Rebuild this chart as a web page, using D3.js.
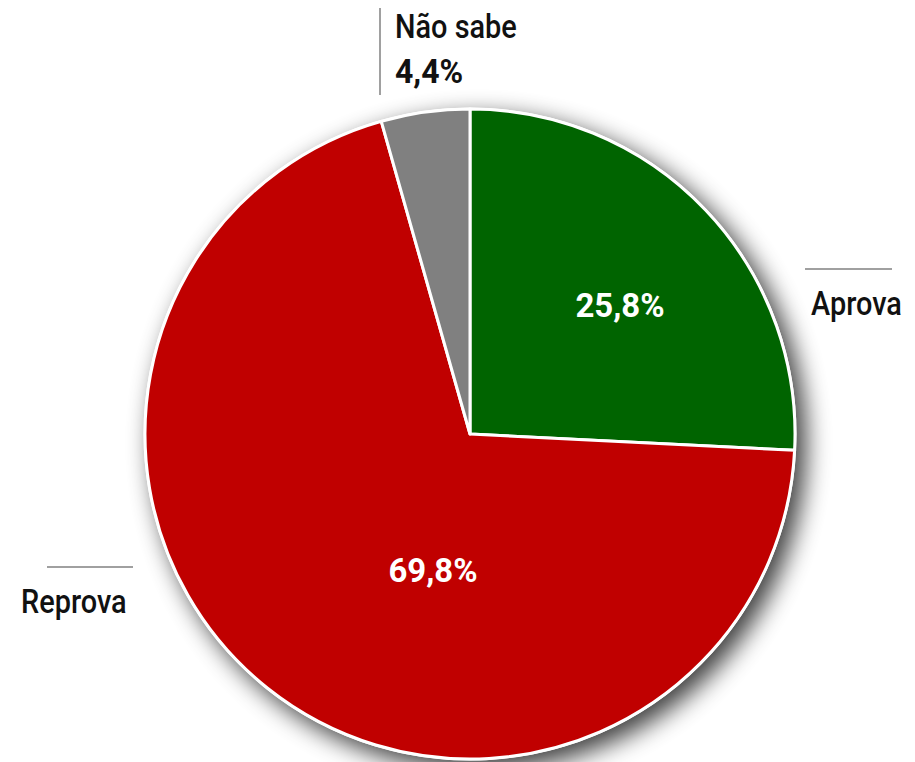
<!DOCTYPE html>
<html>
<head>
<meta charset="utf-8">
<script src="https://cdn.jsdelivr.net/npm/d3@7"></script>
<style>
  body { margin: 0; background: #fff; }
  text { font-family: "Roboto", "Liberation Sans", sans-serif; }
</style>
</head>
<body>
<div id="chart"></div>
<script>
// data
var labels = ["Aprova", "Reprova", "Não sabe"];
var values = [25.8, 69.8, 4.4];
var colors = ["#006400", "#c00000", "#808080"];

var width = 915, height = 762;
var cx = 470, cy = 434, radius = 325;

var svg = d3.select("#chart")
  .append("svg")
  .attr("width", width)
  .attr("height", height);

// blurred disc for the shadow
var defs = svg.append("defs");
defs.append("filter")
  .attr("id", "blur")
  .attr("x", "-20%").attr("y", "-20%")
  .attr("width", "140%").attr("height", "140%")
  .append("feGaussianBlur")
  .attr("stdDeviation", 12);

var g = svg.append("g")
  .attr("transform", "translate(" + cx + "," + cy + ")");

g.append("circle")
  .attr("cx", 9).attr("cy", 9)
  .attr("r", radius + 2)
  .attr("fill", "#000")
  .attr("opacity", 0.75)
  .attr("filter", "url(#blur)");

var pieData = labels.map(function (d, i) { return { label: d, value: values[i] }; });

var pie = d3.pie()
  .sort(null)
  .value(function (d) { return d.value; });

var arc = d3.arc()
  .innerRadius(0)
  .outerRadius(radius);

var color = d3.scaleOrdinal().domain(labels).range(colors);

// white rim
g.append("circle")
  .attr("r", radius + 1.5)
  .attr("fill", "#fff");

g.selectAll("path.slice")
  .data(pie(pieData))
  .enter().append("path")
  .attr("class", "slice")
  .attr("d", arc)
  .attr("fill", function (d) { return color(d.data.label); })
  .attr("stroke", "#fff")
  .attr("stroke-width", 3)
  .attr("stroke-linejoin", "round");

function fmt(v) { return String(v).replace(".", ",") + "%"; }

// text helper, squeeze gives the condensed look
function label(x, y, str, size, weight, fill, anchor, squeeze) {
  svg.append("text")
    .attr("transform", "translate(" + x + "," + y + ") scale(" + squeeze + ",1)")
    .attr("text-anchor", anchor || "start")
    .style("font-size", size + "px")
    .style("font-weight", weight)
    .style("fill", fill)
    .text(str);
}

// values inside slices
var inside = [[150, -117], [-37, 148]];
inside.forEach(function (p, i) {
  label(cx + p[0], cy + p[1], fmt(values[i]), 34, 700, "#fff", "middle", 0.97);
});

// outside labels
svg.append("line")
  .attr("x1", 805).attr("x2", 892).attr("y1", 269).attr("y2", 269)
  .attr("stroke", "#808080").attr("stroke-width", 1.5);
label(811, 315, labels[0], 34, 500, "#111", "start", 0.85);

svg.append("line")
  .attr("x1", 47).attr("x2", 133).attr("y1", 567).attr("y2", 567)
  .attr("stroke", "#808080").attr("stroke-width", 1.5);
label(21, 613, labels[1], 34, 500, "#111", "start", 0.85);

svg.append("line")
  .attr("x1", 380).attr("x2", 380).attr("y1", 8).attr("y2", 95)
  .attr("stroke", "#808080").attr("stroke-width", 1.5);
label(395, 38, labels[2], 34, 500, "#111", "start", 0.85);
label(395, 83, fmt(values[2]), 33, 700, "#111", "start", 0.97);
</script>
</body>
</html>
